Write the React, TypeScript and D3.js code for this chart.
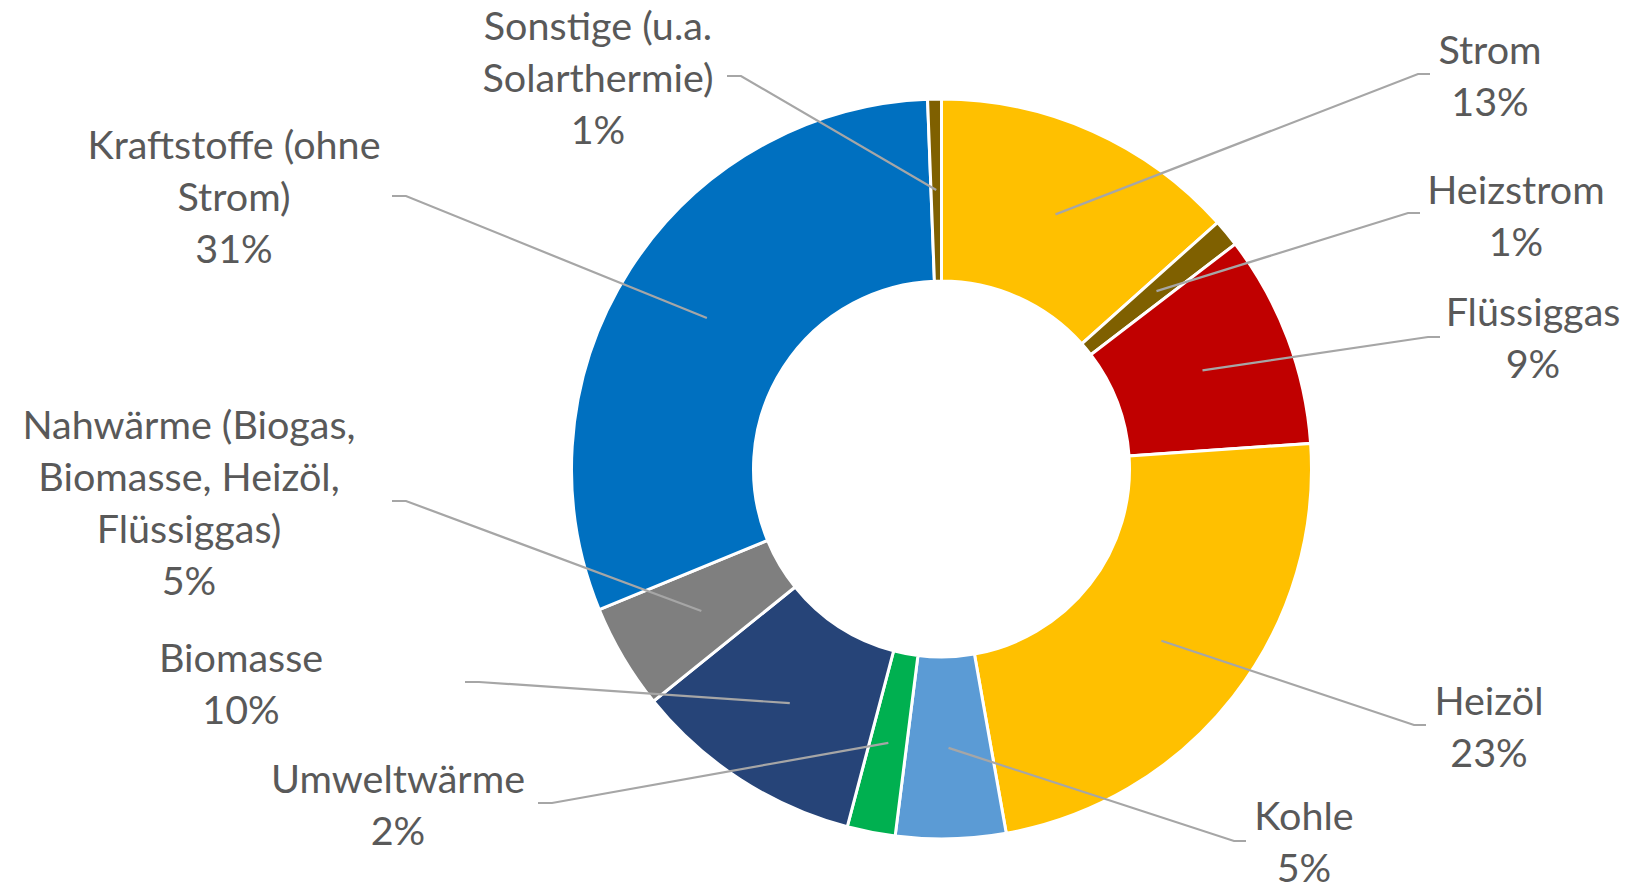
import React from 'react';
import * as d3 from 'd3';

// categories, clockwise from 12 o'clock
const categories = [
  'Strom', 'Heizstrom', 'Flüssiggas', 'Heizöl', 'Kohle',
  'Umweltwärme', 'Biomasse', 'Nahwärme', 'Kraftstoffe', 'Sonstige',
];
const shares = [13.4, 1.2, 9.3, 23.3, 4.8, 2.1, 10.1, 4.6, 30.6, 0.6];
const labelLines = [
  ['Strom'],
  ['Heizstrom'],
  ['Flüssiggas'],
  ['Heizöl'],
  ['Kohle'],
  ['Umweltwärme'],
  ['Biomasse'],
  ['Nahwärme (Biogas,', 'Biomasse, Heizöl,', 'Flüssiggas)'],
  ['Kraftstoffe (ohne', 'Strom)'],
  ['Sonstige (u.a.', 'Solarthermie)'],
];
const colors = [
  '#FFC000', '#7F6000', '#C00000', '#FFC000', '#5B9BD5',
  '#00B050', '#264478', '#7F7F7F', '#0070C0', '#7F6000',
];

// label layout: text centre x, centre y of first line, leader elbow (ex, ey), side of the text
const labelLayout = [
  { x: 1490, y: 50, ex: 1418, ey: 74, side: 'right' },
  { x: 1516, y: 190, ex: 1408, ey: 213, side: 'right' },
  { x: 1533, y: 312, ex: 1428, ey: 337, side: 'right' },
  { x: 1489, y: 701, ex: 1414, ey: 725, side: 'right' },
  { x: 1304, y: 816, ex: 1234, ey: 841, side: 'right' },
  { x: 398, y: 779, ex: 552, ey: 803, side: 'left' },
  { x: 241, y: 658, ex: 479, ey: 682, side: 'left' },
  { x: 189, y: 425, ex: 406, ey: 501, side: 'left' },
  { x: 234, y: 145, ex: 406, ey: 196, side: 'left' },
  { x: 598, y: 26, ex: 741, ey: 76, side: 'left' },
];

const W = 1626;
const H = 884;
const cx = 941.5;
const cy = 469;
const outerR = 370;
const innerR = 188;
const lineH = 52;

export default function App() {
  const data = categories.map((c, i) => ({ name: c, value: shares[i], i }));
  const pie = d3.pie<any>().value(d => d.value).sort(null);
  const arcs = pie(data);
  const arc = d3.arc<any>().innerRadius(innerR).outerRadius(outerR);
  const total = d3.sum(shares);
  const pct = d3.format('.0%');

  return (
    <svg width={W} height={H} style={{ position: 'absolute', left: 0, top: 0, background: '#fff' }}
      fontFamily="Lato, 'Open Sans', sans-serif">
      <g transform={`translate(${cx},${cy})`}>
        {arcs.map((a, i) => (
          <path key={i} d={arc(a) as string} fill={colors[i]} stroke="#fff" strokeWidth={3} />
        ))}
      </g>
      {arcs.map((a, i) => {
        const [px, py] = arc.centroid(a);
        const L = labelLayout[i];
        const hx = L.side === 'right' ? L.ex + 12 : L.ex - 14;
        return (
          <polyline key={'l' + i}
            points={`${cx + px},${cy + py} ${L.ex},${L.ey} ${hx},${L.ey}`}
            fill="none" stroke="#A6A6A6" strokeWidth={2.2} />
        );
      })}
      {arcs.map((a, i) => {
        const L = labelLayout[i];
        const lines = [...labelLines[i], pct(shares[i] / total)];
        return (
          <text key={'t' + i} x={L.x} y={L.y} textAnchor="middle" fill="#595959" fontSize={39.5}>
            {lines.map((s, j) => (
              <tspan key={j} x={L.x} y={L.y + j * lineH} dy="0.35em">{s}</tspan>
            ))}
          </text>
        );
      })}
    </svg>
  );
}
